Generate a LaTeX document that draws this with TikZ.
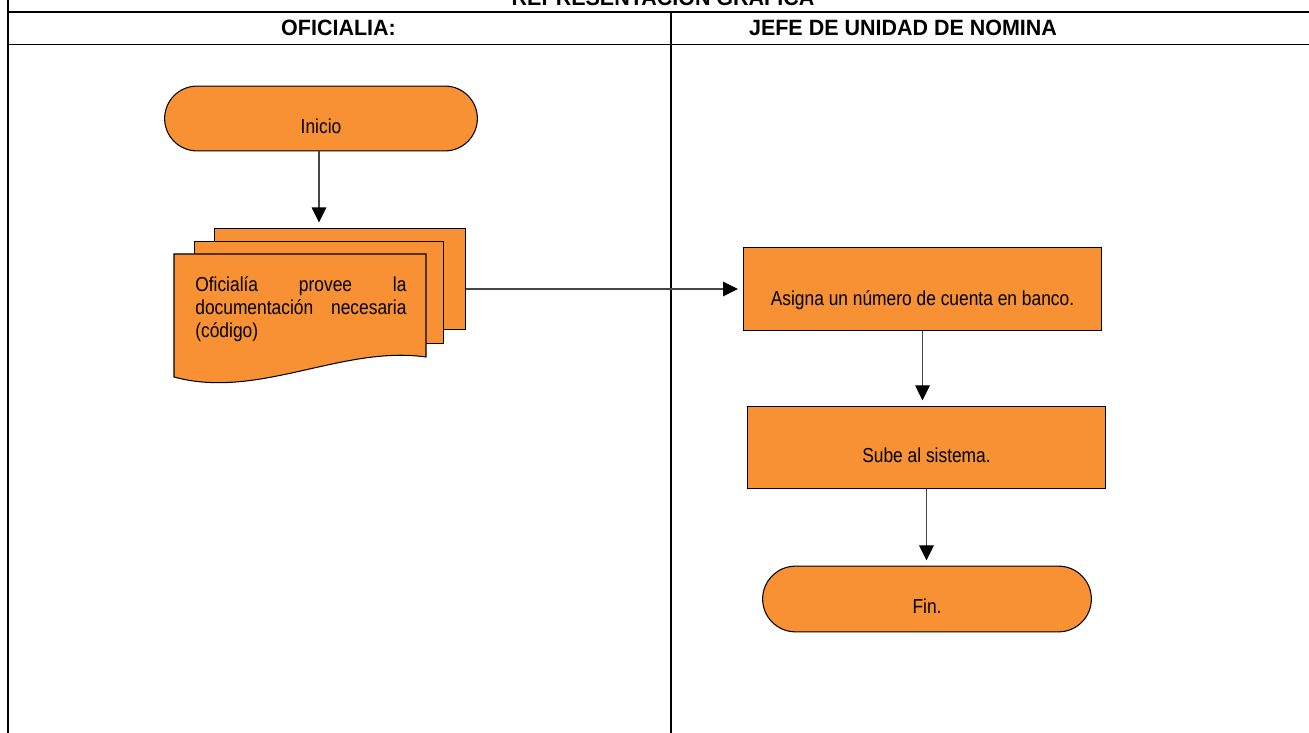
\documentclass[tikz,border=0pt]{standalone}
\usepackage{fontspec}
\setmainfont{Liberation Sans}
\newfontfamily\cuerpofont[FakeStretch=0.86]{Liberation Sans}
\newfontfamily\cabecerafont[FakeStretch=0.97]{Liberation Sans}
\usepackage{tikz}
\usetikzlibrary{shapes.misc, arrows.meta}
\definecolor{naranja}{RGB}{247,145,51}
\definecolor{gris}{RGB}{70,70,70}

\tikzset{
  terminal/.style={rounded rectangle, draw=black, fill=naranja, line width=0.6pt, inner sep=0pt},
  proceso/.style={rectangle, draw=black, fill=naranja, line width=0.6pt, inner sep=0pt},
  texto/.style={font=\cuerpofont\fontsize{11.5pt}{13.3pt}\selectfont, inner sep=0pt, anchor=base},
  cabecera/.style={font=\cabecerafont\bfseries\fontsize{12.6pt}{14pt}\selectfont, inner sep=0pt, anchor=base},
  flecha/.style={draw=gris, line width=0.6pt, -{Triangle[width=8.3pt,length=8.5pt,color=black]}, shorten >=3pt},
  marco/.style={line width=1pt}
}

\begin{document}
\begin{tikzpicture}[x=0.02cm, y=-0.02cm]
    \useasboundingbox (0,0) rectangle (1309,733);
    % marco de la tabla
    \draw[marco] (8,12) -- (1309,12);
    \draw[marco] (8,44.5) -- (1309,44.5);
    \draw[line width=0.8pt] (8,0) -- (8,733);
    \draw[line width=0.7pt] (671,12) -- (671,733);
    \node[cabecera] (titulo) at (663,6) {REPRESENTACION GRAFICA};
    \node[cabecera] (oficialia) at (338.5,36) {OFICIALIA:};
    \node[cabecera] (jefe) at (903,36) {JEFE DE UNIDAD DE NOMINA};

    % columna oficialia
    \node[terminal, minimum width=178pt, minimum height=36.9pt] (inicio) at (321,118.5) {};
    \node[texto] (tinicio) at ([yshift=-8.8pt]inicio.center) {Inicio};

    \node[proceso, minimum width=142.9pt, minimum height=57.8pt] (hoja3) at (340,279) {};
    \node[proceso, minimum width=141.7pt, minimum height=58.4pt] (hoja2) at (319,292.5) {};
    \draw[draw=black, fill=naranja, line width=0.6pt] (174,254) -- (426,254) -- (426,357)
        .. controls (342,345) and (258,400) .. (174,377) -- cycle;
    \node[texto, anchor=north west, text width=120.2pt, align=justify] (tdoc) at (195,276)
        {\tolerance=10000 Oficialía provee la\linebreak documentación necesaria\linebreak (código)};

    % columna jefe de unidad
    \node[proceso, minimum width=203.5pt, minimum height=47.6pt] (asigna) at (922.5,289) {};
    \node[texto] (tasigna) at ([yshift=-9.3pt]asigna.center) {Asigna un número de cuenta en banco.};
    \node[proceso, minimum width=203.5pt, minimum height=47.1pt] (sube) at (926.5,447.5) {};
    \node[texto] (tsube) at ([yshift=-8.8pt]sube.center) {Sube al sistema.};
    \node[terminal, minimum width=187.1pt, minimum height=37.4pt] (fin) at (927,599) {};
    \node[texto] (tfin) at ([yshift=-8.5pt]fin.center) {Fin.};

    % flechas
    \draw[flecha] (inicio.south -| hoja2.north) -- (hoja2.north |- hoja3.north);
    \draw[flecha] (hoja3.east |- asigna.west) -- (asigna.west);
    \draw[flecha] (asigna.south) -- (asigna.south |- sube.north);
    \draw[flecha] (sube.south) -- (sube.south |- fin.north);
\end{tikzpicture}
\end{document}
